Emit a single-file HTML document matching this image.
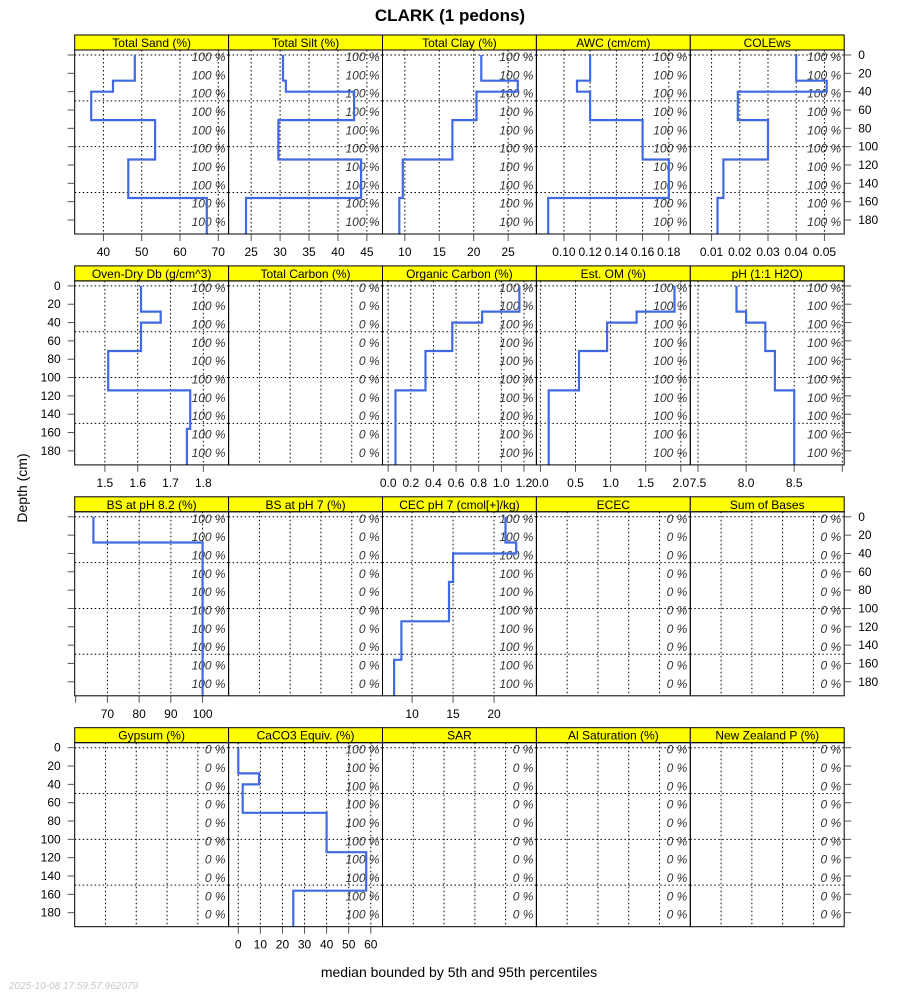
<!DOCTYPE html>
<html><head><meta charset="utf-8">
<style>
html,body{margin:0;padding:0;background:#fff;}
svg{display:block;font-family:"Liberation Sans",sans-serif;}
</style></head>
<body>
<svg id="chart" width="900" height="1000" viewBox="0 0 900 1000">
<text x="450" y="21" text-anchor="middle" font-size="17" font-weight="bold">CLARK (1 pedons)</text>
<text x="27" y="488" text-anchor="middle" font-size="14" transform="rotate(-90 27 488)">Depth (cm)</text>
<text x="459" y="977" text-anchor="middle" font-size="14">median bounded by 5th and 95th percentiles</text>
<text x="9" y="989" font-size="10" font-style="italic" fill="#c8c8c8">2025-10-08 17:59:57.962079</text>
<g id="panels"></g>
</svg>
<script>
const horizonTop = [0, 28, 40, 71, 114, 156];
const horizonBottom = [28, 40, 71, 114, 156, 200];
const depthTicks = [0, 20, 40, 60, 80, 100, 120, 140, 160, 180];
const depthGrid = [0, 50, 100, 150];

const sandVals = [48.2, 42.5, 36.8, 53.5, 46.5, 67];
const siltVals = [30.5, 31, 42.8, 29.7, 44, 24.1];
const clayVals = [21.1, 26.4, 20.4, 16.9, 9.7, 9.2];
const awcVals = [0.12, 0.11, 0.12, 0.16, 0.18, 0.088];
const coleVals = [0.04, 0.0508, 0.0193, 0.03, 0.0142, 0.0121];
const dbVals = [1.61, 1.67, 1.61, 1.51, 1.76, 1.75];
const ocVals = [1.16, 0.83, 0.567, 0.33, 0.065, 0.065];
const omVals = [1.91, 1.37, 0.95, 0.55, 0.118, 0.118];
const phVals = [7.9, 8.0, 8.2, 8.3, 8.5, 8.5];
const bs82Vals = [65.6, 100, 100, 100, 100, 100];
const cecVals = [21.4, 22.7, 15.0, 14.5, 8.7, 7.8];
const caco3Vals = [0, 9.4, 2.0, 40, 57.9, 24.9];

const sandTicks = [40, 50, 60, 70];
const siltTicks = [25, 30, 35, 40, 45];
const clayTicks = [10, 15, 20, 25];
const awcTicks = [0.10, 0.12, 0.14, 0.16, 0.18];
const awcLabels = ["0.10", "0.12", "0.14", "0.16", "0.18"];
const coleTicks = [0.01, 0.02, 0.03, 0.04, 0.05];
const dbTicks = [1.5, 1.6, 1.7, 1.8];
const ocTicks = [0.0, 0.2, 0.4, 0.6, 0.8, 1.0, 1.2];
const ocLabels = ["0.0", "0.2", "0.4", "0.6", "0.8", "1.0", "1.2"];
const omTicks = [0.0, 0.5, 1.0, 1.5, 2.0];
const omLabels = ["0.0", "0.5", "1.0", "1.5", "2.0"];
const phTicks = [7.5, 8.0, 8.5, 9.0];
const phLabels = ["7.5", "8.0", "8.5", ""];
const bs82Ticks = [60, 70, 80, 90, 100];
const bs82Labels = ["", "70", "80", "90", "100"];
const cecTicks = [10, 15, 20];
const caco3Ticks = [0, 10, 20, 30, 40, 50, 60];
const emptyTicks = [0.2, 0.4, 0.6, 0.8];

const panels = [
 {t:"Total Sand (%)", d:[32.5,72.7], ticks:sandTicks, v:sandVals},
 {t:"Total Silt (%)", d:[21.1,47.7], ticks:siltTicks, v:siltVals},
 {t:"Total Clay (%)", d:[6.76,29.1], ticks:clayTicks, v:clayVals},
 {t:"AWC (cm/cm)", d:[0.079,0.1964], ticks:awcTicks, labels:awcLabels, v:awcVals},
 {t:"COLEws", d:[0.00247,0.057], ticks:coleTicks, v:coleVals},
 {t:"Oven-Dry Db (g/cm^3)", d:[1.408,1.877], ticks:dbTicks, v:dbVals},
 {t:"Total Carbon (%)", v:null},
 {t:"Organic Carbon (%)", d:[-0.05,1.31], ticks:ocTicks, labels:ocLabels, v:ocVals},
 {t:"Est. OM (%)", d:[-0.057,2.135], ticks:omTicks, labels:omLabels, v:omVals},
 {t:"pH (1:1 H2O)", d:[7.42,9.02], ticks:phTicks, labels:phLabels, v:phVals},
 {t:"BS at pH 8.2 (%)", d:[59.7,108.2], ticks:bs82Ticks, labels:bs82Labels, v:bs82Vals},
 {t:"BS at pH 7 (%)", v:null},
 {t:"CEC pH 7 (cmol[+]/kg)", d:[6.39,25.17], ticks:cecTicks, v:cecVals},
 {t:"ECEC", v:null},
 {t:"Sum of Bases", v:null},
 {t:"Gypsum (%)", v:null},
 {t:"CaCO3 Equiv. (%)", d:[-4.38,65.3], ticks:caco3Ticks, v:caco3Vals},
 {t:"SAR", v:null},
 {t:"Al Saturation (%)", v:null},
 {t:"New Zealand P (%)", v:null}
];

const NS = "http://www.w3.org/2000/svg";
const root = document.getElementById("panels");
function mk(tag, attrs, parent, text){
  const e = document.createElementNS(NS, tag);
  for (const k in attrs) e.setAttribute(k, attrs[k]);
  if (text !== undefined) e.textContent = text;
  (parent || root).appendChild(e);
  return e;
}
const L0 = 74.7, PW = 153.9, PT0 = 50, PH = 184, RS = 230.9, SH = 15;
const D0 = -5.45, D1 = 195.3;

panels.forEach((p, i) => {
  const r = Math.floor(i / 5), c = i % 5;
  const x0 = L0 + c * PW, x1 = x0 + PW;
  const y0 = PT0 + r * RS, y1 = y0 + PH;
  const ys = d => y0 + (d - D0) / (D1 - D0) * PH;
  const xs = p.v ? (v => x0 + (v - p.d[0]) / (p.d[1] - p.d[0]) * PW) : (f => x0 + f * PW);
  const g = mk("g", {});
  
  
  // strip
  const strip = mk("rect", {x:x0, y:y0-SH, width:PW, height:SH, fill:"#ffff00", stroke:"#000", "stroke-width":1}, g);
  
  
  const st = mk("text", {x:(x0+x1)/2, y:y0-3, "text-anchor":"middle", "font-size":12}, g, p.t);
  
  
  // grid
  const gx = p.v ? p.ticks : emptyTicks;
  gx.forEach(t => {
    const x = xs(t);
    if (x > x0 + 1 && x < x1 - 1) {
      const l = mk("line", {x1:x, x2:x, y1:y0, y2:y1, stroke:"#000", "stroke-width":1, "stroke-dasharray":"1.5,2.5"}, g);
      
      
    }
  });
  depthGrid.forEach(d => {
    const y = ys(d);
    const l = mk("line", {x1:x0, x2:x1, y1:y, y2:y, stroke:"#000", "stroke-width":1, "stroke-dasharray":"1.5,2.5"}, g);
    
    
  });
  // percent labels
  depthTicks.forEach(d => {
    const tx = mk("text", {x:x1-3, y:ys(d)+6, "text-anchor":"end", "font-size":12, "font-style":"italic", fill:"#333"}, g, p.v ? "100 %" : "0 %");
    
    
  });
  // profile line
  if (p.v) {
    let pts = [];
    p.v.forEach((v, k) => {
      pts.push([xs(v), ys(horizonTop[k])]);
      pts.push([xs(v), ys(Math.min(horizonBottom[k], D1))]);
    });
    const pl = mk("polyline", {points: pts.map(q => q[0].toFixed(1)+","+q[1].toFixed(1)).join(" "), fill:"none", stroke:"#4169E1", "stroke-width":2.2, "stroke-linejoin":"miter"}, g);
    
    
    // x axis
    p.ticks.forEach((t, k) => {
      const x = xs(t);
      const tk = mk("line", {x1:x, x2:x, y1:y1, y2:y1+7, stroke:"#555", "stroke-width":1}, g);
      
      
      const lab = p.labels ? p.labels[k] : String(t);
      if (lab) {
        const tl = mk("text", {x:x, y:y1+22, "text-anchor":"middle", "font-size":12}, g, lab);
        
        
      }
    });
  }
  // border
  const b = mk("rect", {x:x0, y:y0, width:PW, height:PH, fill:"none", stroke:"#000", "stroke-width":1}, g);
  
  
  // y axes
  if (c === 0) {
    depthTicks.forEach(d => {
      const y = ys(d);
      const tk = mk("line", {x1:x0-7, x2:x0, y1:y, y2:y, stroke:"#555"}, g);
      
      
      if (r % 2 === 1) {
        const tl = mk("text", {x:x0-14, y:y+4, "text-anchor":"end", "font-size":12}, g, String(d));
        
        
      }
    });
  }
  if (c === 4) {
    depthTicks.forEach(d => {
      const y = ys(d);
      const tk = mk("line", {x1:x1, x2:x1+7, y1:y, y2:y, stroke:"#555"}, g);
      
      
      if (r % 2 === 0) {
        const tl = mk("text", {x:x1+14, y:y+4, "text-anchor":"start", "font-size":12}, g, String(d));
        
        
      }
    });
  }
});
</script>
</body></html>
